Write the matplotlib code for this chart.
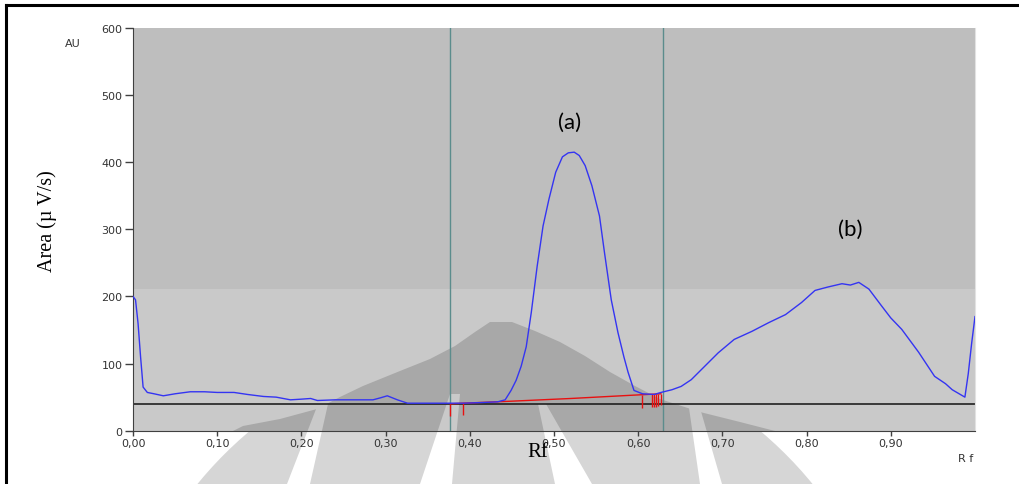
import numpy as np
import matplotlib
matplotlib.use('Agg')
import matplotlib.pyplot as plt
from matplotlib.patches import Polygon
from matplotlib.lines import Line2D
from matplotlib.transforms import Affine2D

# Densitogram data (Rf, area in uV/s)
rf = [0.000, 0.003, 0.006, 0.009, 0.012, 0.017, 0.025, 0.036, 0.050, 0.068, 0.085,
      0.100, 0.120, 0.136, 0.155, 0.170, 0.187, 0.200, 0.211, 0.219, 0.240, 0.255,
      0.274, 0.285, 0.294, 0.302, 0.314, 0.326, 0.350, 0.375, 0.393, 0.415, 0.433,
      0.442, 0.449, 0.455, 0.461, 0.467, 0.473, 0.480, 0.487, 0.494, 0.502, 0.510,
      0.517, 0.524, 0.530, 0.537, 0.545, 0.554, 0.560, 0.568, 0.576, 0.583, 0.588,
      0.595, 0.605, 0.619, 0.627, 0.640, 0.651, 0.663, 0.675, 0.695, 0.714, 0.735,
      0.755, 0.775, 0.794, 0.810, 0.825, 0.842, 0.852, 0.862, 0.874, 0.889, 0.900,
      0.913, 0.933, 0.952, 0.965, 0.973, 0.988, 0.992, 0.996, 1.000]
area = [200, 195, 160, 110, 65, 57, 55, 52, 55, 58, 58,
        57, 57, 54, 51, 50, 46, 47, 48, 45, 46, 46,
        46, 46, 49, 52, 46, 41, 41, 41, 41, 42, 43,
        46, 60, 75, 96, 125, 176, 245, 305, 345, 385, 408,
        414, 415, 410, 395, 365, 320, 265, 195, 146, 110, 87,
        60, 55, 54, 57, 61, 66, 76, 91, 116, 136, 148,
        161, 173, 191, 209, 214, 219, 217, 221, 211, 186, 168,
        151, 117, 81, 70, 61, 50, 85, 130, 170]

# Integration baseline of peak (a) and its drop lines
base_rf = [0.377, 0.392, 0.450, 0.520, 0.595, 0.627]
base_area = [40, 41, 44, 48, 53, 55]
drop_rf = [0.377, 0.392, 0.604, 0.616, 0.619, 0.621, 0.624, 0.627]
drop_top = [40, 41, 53, 54, 54, 55, 55, 55]
drop_bottom = [22, 23, 34, 35, 35, 36, 37, 38]

# Track window and threshold
window = [0.376, 0.629]
threshold = 40

xticks = [0.0, 0.1, 0.2, 0.3, 0.4, 0.5, 0.6, 0.7, 0.8, 0.9]
xlabels = ['0,00', '0,10', '0,20', '0,30', '0,40', '0,50', '0,60', '0,70', '0,80', '0,90']
yticks = [0, 100, 200, 300, 400, 500, 600]

W, H = 1020, 485
fig = plt.figure(figsize=(W / 100, H / 100), dpi=100)
fig.patch.set_facecolor('white')
ax = fig.add_axes([133 / W, 1 - 431.7 / H, 842 / W, 402.7 / H])
ax.set_xlim(0, 1.0)
ax.set_ylim(0, 600)
ax.patch.set_visible(False)

# pixel transform (origin top left) for the scanned watermark
px = Affine2D().scale(1 / W, -1 / H).translate(0, 1) + fig.transFigure

# background bands
ax.axhspan(211, 600, color='#bebebe', zorder=0, lw=0)
ax.axhspan(0, 211, color='#c9c9c9', zorder=0, lw=0)

# watermark: round logo under the plot, light grey on the white page
t = np.linspace(0, 2 * np.pi, 200)
disk = np.column_stack([505 + 397 * np.cos(t), 736 + 397 * np.sin(t)])
fig.add_artist(Polygon(disk, closed=True, transform=px, facecolor='#d6d6d6',
                       edgecolor='none', zorder=-2))
# mountain of the logo, dark inside the plot
mountain = [(233, 432), (243, 427), (280, 420), (317, 410), (340, 398), (363, 387),
            (400, 372), (430, 360), (455, 347), (475, 333), (490, 323), (512, 323),
            (535, 332), (560, 343), (585, 357), (610, 373), (635, 387), (660, 400),
            (700, 413), (740, 423), (775, 432)]
ax.add_patch(Polygon(mountain, closed=True, transform=px, facecolor='#a8a8a8',
                     edgecolor='none', zorder=0.5))
# ray gaps of the logo
gaps = [
    [(318, 405), (328, 405), (310, 485), (287, 485)],
    [(450, 395), (460, 395), (452, 485), (420, 485)],
    [(538, 405), (546, 405), (592, 485), (555, 485)],
    [(688, 402), (698, 402), (722, 485), (700, 485)],
]
for g in gaps:
    ax.add_patch(Polygon(g, closed=True, transform=px, facecolor='#c9c9c9',
                         edgecolor='none', zorder=0.6))
    fig.add_artist(Polygon(g, closed=True, transform=px, facecolor='white',
                           edgecolor='none', zorder=-1))

# window lines and threshold
for w in window:
    ax.axvline(w, color='#5b8c8c', lw=1, zorder=2)
ax.axhline(threshold, color='#202020', lw=1.2, zorder=2)

# curves
ax.plot(base_rf, base_area, color='#e81010', lw=1, zorder=3)
ax.vlines(drop_rf, drop_bottom, drop_top, color='#e81010', lw=1, zorder=3)
ax.plot(rf, area, color='#3434f2', lw=1, zorder=4)

# axes styling
ax.spines['top'].set_visible(False)
ax.spines['right'].set_color('#e2e2e2')
ax.spines['left'].set_color('#404040')
ax.spines['bottom'].set_color('#404040')
ax.set_xticks(xticks)
ax.set_xticklabels(xlabels)
ax.set_yticks(yticks)
ax.tick_params(width=1, color='#404040', labelsize=8, labelcolor='#333333')
ax.tick_params(axis='y', length=6, pad=1.5)
ax.tick_params(axis='x', length=3.6, pad=2)
for lab in ax.get_xticklabels() + ax.get_yticklabels():
    lab.set_family('DejaVu Sans')

# labels
fig.text(73 / W, 1 - 44 / H, 'AU', fontsize=8, ha='center', va='center',
         family='DejaVu Sans', color='#333333')
fig.text(966 / W, 1 - 459 / H, 'R f', fontsize=8, ha='center', va='center',
         family='DejaVu Sans', color='#333333')
fig.text(47 / W, 1 - 221 / H, 'Area (\u00b5 V/s)', fontsize=14.5, rotation=90,
         ha='center', va='center', family='Liberation Serif')
fig.text(538 / W, 1 - 453 / H, 'Rf', fontsize=15, ha='center', va='center',
         family='Liberation Serif')
fig.text(570 / W, 1 - 123 / H, '(a)', fontsize=16, ha='center', va='center', family='Lato')
fig.text(850 / W, 1 - 230 / H, '(b)', fontsize=16, ha='center', va='center', family='Lato')

# frame of the scanned figure
fig.add_artist(Line2D([6 / W, 6 / W], [0, 1 - 6 / H], color='black', lw=2.2))
fig.add_artist(Line2D([6 / W, 1], [1 - 6 / H, 1 - 6 / H], color='black', lw=2.2))

fig.savefig('out.png', dpi=100)
